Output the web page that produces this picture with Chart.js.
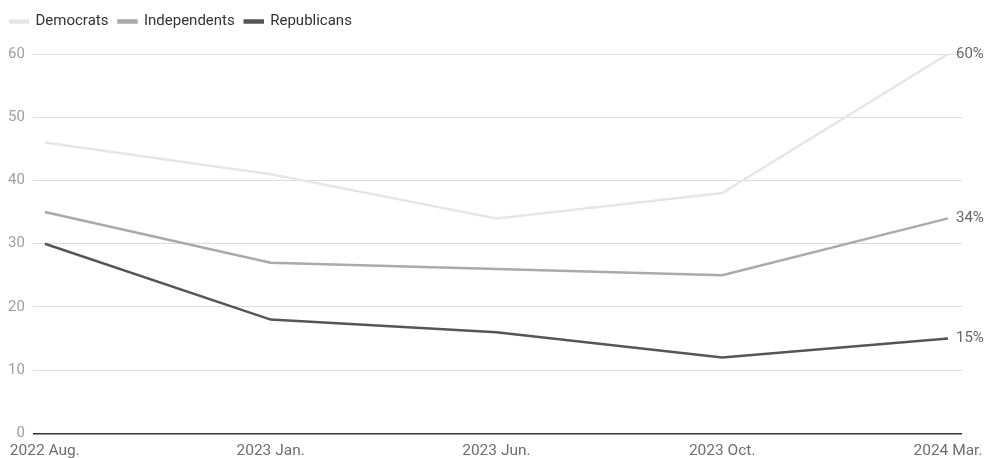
<!DOCTYPE html>
<html>
<head>
<meta charset="utf-8">
<script src="https://cdn.jsdelivr.net/npm/chart.js@4"></script>
<style>
  html, body { margin: 0; padding: 0; background: #fff; }
  #wrap { width: 986px; height: 458px; position: relative; }
</style>
</head>
<body>
<div id="wrap"><canvas id="partyChart"></canvas></div>
<script>
// Share of each party, in percent
const periods = ['2022 Aug.', '2023 Jan.', '2023 Jun.', '2023 Oct.', '2024 Mar.'];
const democrats = [46, 41, 34, 38, 60];
const independents = [35, 27, 26, 25, 34];
const republicans = [30, 18, 16, 12, 15];
const yTicks = [0, 10, 20, 30, 40, 50, 60];

const FONT = 'Roboto, "Noto Sans", sans-serif';

function toPoints(values) {
    return values.map((v, i) => ({ x: i, y: v }));
}

// end-of-line value labels
const endLabels = {
    id: 'endLabels',
    afterDatasetsDraw(chart) {
        const ctx = chart.ctx;
        ctx.save();
        ctx.font = '15px ' + FONT;
        ctx.fillStyle = '#666666';
        ctx.textAlign = 'left';
        ctx.textBaseline = 'middle';
        chart.data.datasets.forEach((ds, i) => {
            const meta = chart.getDatasetMeta(i);
            const last = meta.data[meta.data.length - 1];
            ctx.fillText(ds.data[ds.data.length - 1].y + '%', last.x + 8, last.y);
        });
        ctx.restore();
    }
};

// extra gap under the legend
const legendGap = {
    id: 'legendGap',
    beforeInit(chart) {
        const origFit = chart.legend.fit;
        chart.legend.fit = function() {
            origFit.bind(chart.legend)();
            this.height += 15;
        };
    }
};

function series(label, values, color) {
    return {
        label: label,
        data: toPoints(values),
        borderColor: color,
        backgroundColor: color,
        borderWidth: 2.5,
        pointRadius: 0,
        tension: 0
    };
}

new Chart(document.getElementById('partyChart'), {
    type: 'line',
    data: {
        datasets: [
            series('Democrats', democrats, '#e6e6e6'),
            series('Independents', independents, '#aaaaaa'),
            series('Republicans', republicans, '#555555')
        ]
    },
    options: {
        responsive: true,
        maintainAspectRatio: false,
        animation: false,
        layout: { padding: { left: 0, right: 24, top: 4, bottom: -10 } },
        plugins: {
            legend: {
                position: 'top',
                align: 'start',
                labels: {
                    boxWidth: 18,
                    boxHeight: 2,
                    padding: 10,
                    color: '#333333',
                    font: { family: FONT, size: 15 }
                }
            },
            tooltip: { enabled: false }
        },
        scales: {
            x: {
                type: 'linear',
                min: -0.053,
                max: 4.062,
                afterBuildTicks: function(axis) {
                    axis.ticks = periods.map((p, i) => ({ value: i }));
                },
                afterFit: function(axis) {
                    // let the end labels hang outside the plot area
                    axis.paddingLeft = 0;
                    axis.paddingRight = 0;
                },
                grid: { display: false, drawTicks: false },
                border: { display: false },
                ticks: {
                    color: '#6e6e6e',
                    padding: 8,
                    maxRotation: 0,
                    font: { family: FONT, size: 15.5 },
                    callback: function(value) {
                        return periods[value];
                    }
                }
            },
            y: {
                min: 0,
                max: 60,
                afterBuildTicks: function(axis) {
                    axis.ticks = yTicks.map(v => ({ value: v }));
                },
                grid: {
                    color: function(c) { return c.tick.value === 0 ? '#333333' : '#dddddd'; },
                    lineWidth: function(c) { return c.tick.value === 0 ? 1.5 : 1; },
                    drawTicks: false
                },
                border: { display: false },
                ticks: {
                    color: '#9e9e9e',
                    padding: 8,
                    font: { family: FONT, size: 15 }
                }
            }
        }
    },
    plugins: [endLabels, legendGap]
});
</script>
</body>
</html>
